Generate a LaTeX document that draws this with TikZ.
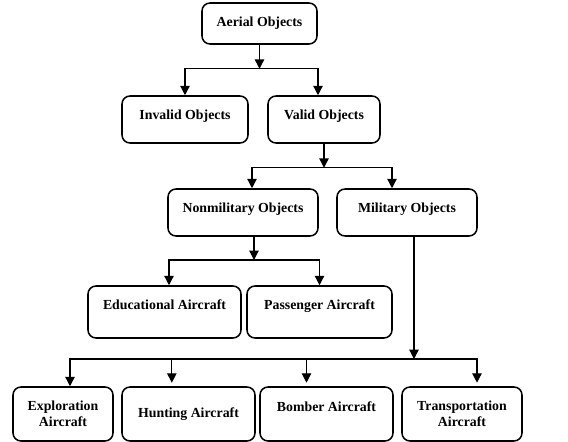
\documentclass[tikz,border=0pt]{standalone}
\usepackage{fontspec}
\setmainfont{Liberation Serif}
\usepackage{tikz}
\usetikzlibrary{positioning,arrows.meta}

\begin{document}
\begin{tikzpicture}[
  box/.style={draw, line width=1.3pt, rounded corners=0.24cm, align=center,
    font=\fontsize{11.8}{13.8}\selectfont\bfseries},
  lift/.style={text height=8pt, text depth=#1},
  link/.style={-{Triangle[width=8pt,length=8pt]}, line width=1.1pt}
]
\useasboundingbox (0,0) rectangle (17.04,-13.26);

% levels of the tree
\node[box, minimum width=3.45cm, minimum height=1.23cm] (aerial) at (7.785,-0.705) {Aerial Objects};

\node[box, lift=8.5pt, minimum width=3.78cm, minimum height=1.41cm] (invalid) at (5.55,-3.585) {Invalid Objects};
\node[box, lift=8.5pt, minimum width=3.36cm, minimum height=1.41cm] (valid) at (9.72,-3.585) {Valid Objects};

\node[box, lift=8.5pt, minimum width=4.5cm, minimum height=1.41cm] (nonmil) at (7.29,-6.375) {Nonmilitary Objects};
\node[box, lift=8.5pt, minimum width=4.2cm, minimum height=1.41cm] (mil) at (12.21,-6.375) {Military Objects};

\node[box, lift=13pt, minimum width=4.59cm, minimum height=1.56cm] (edu) at (4.935,-9.36) {Educational Aircraft};
\node[box, lift=13pt, minimum width=4.35cm, minimum height=1.56cm] (pass) at (9.585,-9.36) {Passenger Aircraft};

\node[box, minimum width=3.0cm, minimum height=1.62cm] (explo) at (1.89,-12.42) {Exploration\\Aircraft};
\node[box, minimum width=3.99cm, minimum height=1.62cm] (hunt) at (5.655,-12.42) {Hunting Aircraft};
\node[box, lift=13pt, minimum width=3.99cm, minimum height=1.62cm] (bomber) at (9.795,-12.42) {Bomber Aircraft};
\node[box, minimum width=3.6cm, minimum height=1.62cm] (transp) at (13.86,-12.42) {Transportation\\Aircraft};

% branch points
\coordinate (j1) at ([yshift=-0.72cm]aerial.south);
\coordinate (j2) at ([yshift=-0.72cm]valid.south);
\coordinate (j3) at (7.62,-7.8);
\coordinate (j4) at (12.42,-10.77);
\coordinate (hunttop) at ([xshift=-0.5cm]hunt.north);
\coordinate (bombertop) at ([xshift=-0.6cm]bomber.north);

\draw[link] (aerial) -- (j1);
\draw[link] (j1) -| (invalid.north);
\draw[link] (j1) -| ([xshift=-0.18cm]valid.north);

\draw[link] (valid) -- (j2);
\draw[link] (j2) -| ([xshift=0.27cm]nonmil.north);
\draw[link] (j2) -| ([xshift=-0.45cm]mil.north);

\draw[link] (nonmil.south -| j3) -- (j3);
\draw[link] (j3) -| ([xshift=0.135cm]edu.north);
\draw[link] (j3) -| (pass.north);

\draw[link] (mil.south -| j4) -- (j4);
\draw[link] (j4) -| ([xshift=0.21cm]explo.north);
\draw[link, shorten >=3pt] (j4) -| ([xshift=0.45cm]transp.north);
\draw[link, shorten >=3pt] (hunttop |- j4) -- (hunttop);
\draw[link, shorten >=3pt] (bombertop |- j4) -- (bombertop);

\end{tikzpicture}
\end{document}
